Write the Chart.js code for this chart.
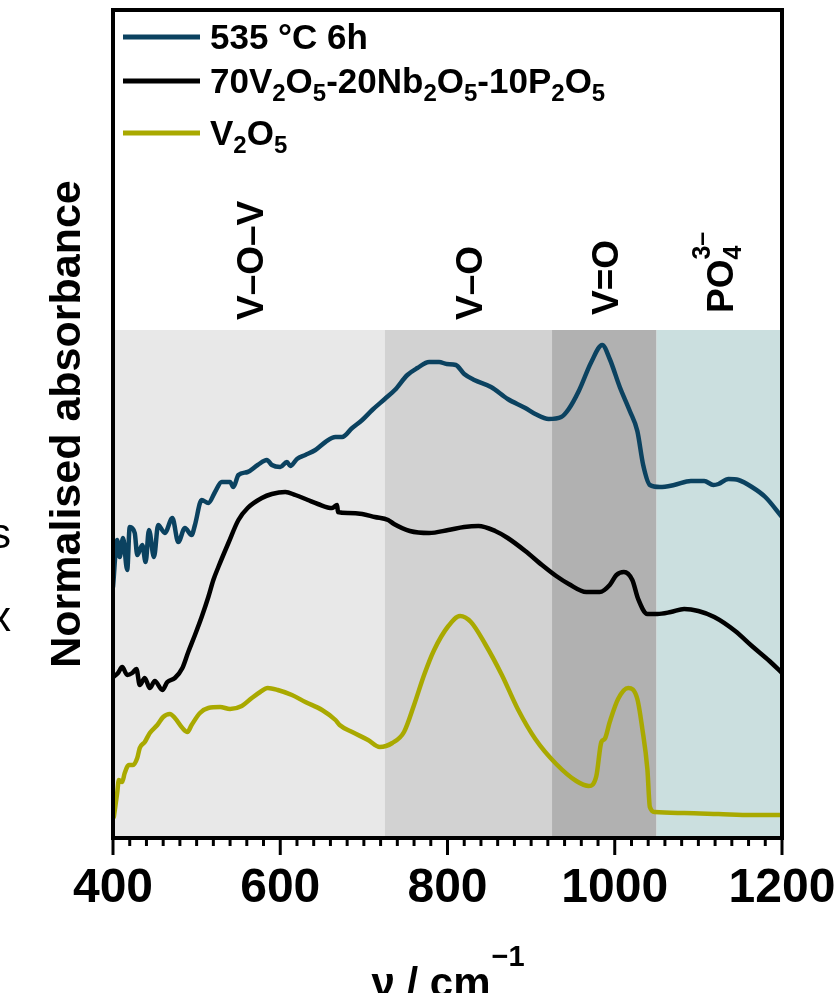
<!DOCTYPE html>
<html>
<head>
<meta charset="utf-8">
<script src="https://cdn.jsdelivr.net/npm/chart.js@4/dist/chart.umd.min.js"></script>
<style>
  html, body { margin: 0; padding: 0; background: #fff; }
</style>
</head>
<body>
<canvas id="c" width="840" height="993"></canvas>
<script>
/* ===== FTIR absorbance: three offset traces over shaded band regions ===== */

// ---- data (wavenumber / cm-1, offset normalised absorbance) ----
const heatWn = [400,405,408,412,417,420,426,429,435,439,443,449,454,462,471,478,486,494,498,506,
  514,522,530,540,544,550,561,573,584,590,600,608,612,620,630,642,654,666,674,686,
  698,710,725,737,752,764,778,790,799,810,820,832,852,872,893,905,921,936,945,957,
  972,985,994,1006,1018,1027,1034,1042,1054,1071,1091,1107,1118,1124,1136,1148,1164,1180,1200];
const heatAbs = [2.51,2.98,2.81,3.00,2.68,3.11,3.05,2.83,2.93,2.76,3.08,2.81,3.13,3.05,3.20,2.96,3.10,3.03,3.13,3.38,
  3.35,3.46,3.56,3.56,3.51,3.63,3.66,3.73,3.78,3.73,3.71,3.76,3.72,3.79,3.83,3.88,3.96,4.01,4.01,4.10,
  4.18,4.28,4.39,4.48,4.63,4.70,4.76,4.76,4.74,4.73,4.64,4.58,4.51,4.39,4.30,4.24,4.19,4.21,4.29,4.47,
  4.76,4.93,4.79,4.51,4.27,4.07,3.73,3.53,3.51,3.53,3.57,3.57,3.53,3.54,3.59,3.58,3.51,3.41,3.21];

const glassWn = [400,406,411,417,423,428,432,438,444,450,459,465,474,483,490,498,506,514,520,526,
  538,550,561,578,590,606,618,633,645,662,668,669,681,698,713,729,736,755,778,801,
  820,837,857,872,893,913,930,945,966,982,994,1002,1011,1021,1028,1039,1051,1067,1083,1100,
  1119,1144,1164,1185,1200];
const glassAbs = [1.61,1.65,1.71,1.63,1.65,1.69,1.53,1.60,1.50,1.57,1.48,1.56,1.60,1.70,1.86,2.03,2.21,2.41,2.58,2.71,
  2.95,3.18,3.30,3.40,3.44,3.46,3.43,3.38,3.34,3.30,3.33,3.26,3.25,3.24,3.21,3.18,3.14,3.07,3.05,3.08,
  3.11,3.12,3.07,3.00,2.87,2.73,2.62,2.54,2.46,2.46,2.53,2.63,2.66,2.58,2.39,2.24,2.24,2.26,2.29,2.27,
  2.21,2.07,1.92,1.77,1.65];

const v2o5Wn = [401,405,407,411,414,419,424,429,432,438,444,453,460,468,474,483,489,494,504,514,
  528,540,554,566,576,585,597,614,630,650,666,671,686,705,719,734,748,760,772,784,
  801,815,828,845,865,884,905,930,954,969,978,984,988,994,1004,1016,1027,1033,1039,1042,
  1048,1083,1124,1164,1200];
const v2o5Abs = [0.21,0.45,0.58,0.56,0.65,0.73,0.73,0.80,0.90,0.96,1.05,1.13,1.21,1.24,1.20,1.10,1.06,1.13,1.25,1.30,
  1.31,1.29,1.32,1.40,1.46,1.50,1.48,1.43,1.36,1.28,1.18,1.13,1.06,0.98,0.91,0.95,1.06,1.33,1.63,1.88,
  2.12,2.22,2.16,1.94,1.63,1.29,0.99,0.74,0.57,0.52,0.62,0.96,0.99,1.16,1.39,1.50,1.39,1.09,0.69,0.31,
  0.26,0.25,0.24,0.23,0.23];

const seriesNames = ["535 °C 6h", "70V_2O_5-20Nb_2O_5-10P_2O_5", "V_2O_5"];
const seriesColors = ["#0b4260", "#000000", "#a9a900"];

// shaded assignment bands
const bandEdges = [400, 725, 925, 1050, 1200];
const bandColors = ["#e8e8e8", "#d2d2d2", "#b1b1b1", "#cbdfdf"];
const bandTop = 5.08;
const bandLabels = ["V–O–V", "V–O", "V=O", "PO_4^{3–}"];
const bandLabelWn = [563, 825, 988, 1125];
const bandLabelBase = [5.18, 5.18, 5.23, 5.25];

const xMin = 400, xMax = 1200, xStep = 20, xMajor = 200;
const yMin = 0, yMax = 8.28;

const FONT = '"Liberation Sans", Arial, sans-serif';

// tiny markup: _x subscript, ^{..} superscript (a sup straight after a sub stacks on it)
function parseRich(s) {
  const out = [];
  let i = 0;
  while (i < s.length) {
    const c = s[i];
    if (c === "_" || c === "^") {
      let t;
      if (s[i + 1] === "{") { const j = s.indexOf("}", i); t = s.slice(i + 2, j); i = j + 1; }
      else { t = s[i + 1]; i += 2; }
      out.push({ t, k: c === "_" ? "sub" : "sup" });
    } else {
      const last = out[out.length - 1];
      if (last && last.k === "n") last.t += c; else out.push({ t: c, k: "n" });
      i++;
    }
  }
  return out;
}

function drawRich(ctx, s, x, y, size) {
  let cx = x, subStart = null;
  for (const p of parseRich(s)) {
    const small = p.k !== "n";
    ctx.font = `bold ${small ? Math.round(size * 0.68) : size}px ${FONT}`;
    let dx = cx, dy = y;
    if (p.k === "sub") { dy = y + size * 0.23; subStart = cx; }
    if (p.k === "sup") { if (subStart !== null) dx = subStart; dy = y - size * 0.62; }
    ctx.fillText(p.t, dx, dy);
    cx = Math.max(cx, dx + ctx.measureText(p.t).width);
    if (p.k !== "sub") subStart = null;
  }
}

const decor = {
  id: "decor",
  beforeDatasetsDraw(chart) {
    const { ctx, chartArea: a, scales: { x, y } } = chart;
    const top = y.getPixelForValue(bandTop);
    ctx.save();
    bandColors.forEach((col, i) => {
      const l = x.getPixelForValue(bandEdges[i]), r = x.getPixelForValue(bandEdges[i + 1]);
      ctx.fillStyle = col;
      ctx.fillRect(l, top, r - l, a.bottom - top);
    });
    ctx.restore();
  },
  afterDraw(chart) {
    const { ctx, chartArea: a, scales: { x, y } } = chart;
    ctx.save();
    ctx.fillStyle = "#000";
    ctx.strokeStyle = "#000";

    // frame + bottom ticks
    ctx.lineWidth = 4;
    ctx.strokeRect(a.left, a.top, a.right - a.left, a.bottom - a.top);
    ctx.lineWidth = 3;
    x.ticks.forEach((t) => {
      const px = x.getPixelForValue(t.value);
      ctx.beginPath();
      ctx.moveTo(px, a.bottom);
      ctx.lineTo(px, a.bottom + (t.value % xMajor === 0 ? 17 : 8));
      ctx.stroke();
    });

    // legend
    ctx.textAlign = "left";
    ctx.textBaseline = "alphabetic";
    const rows = [37, 81, 133];
    seriesNames.forEach((name, i) => {
      const ly = a.top + rows[i] - 10;
      ctx.strokeStyle = seriesColors[i];
      ctx.lineWidth = 5;
      ctx.beginPath();
      ctx.moveTo(a.left + 10, ly);
      ctx.lineTo(a.left + 87, ly);
      ctx.stroke();
      drawRich(ctx, name, a.left + 97, ly + 12, 35);
    });

    // band labels, rotated
    const annSize = 37;
    bandLabels.forEach((lab, i) => {
      const cx = x.getPixelForValue(bandLabelWn[i]);
      ctx.save();
      ctx.translate(cx + annSize * 0.36, y.getPixelForValue(bandLabelBase[i]));
      ctx.rotate(-Math.PI / 2);
      drawRich(ctx, lab, 0, 0, annSize);
      ctx.restore();
    });

    // y title
    ctx.save();
    ctx.font = `bold 43px ${FONT}`;
    ctx.textAlign = "center";
    ctx.translate(80, (a.top + a.bottom) / 2);
    ctx.rotate(-Math.PI / 2);
    ctx.fillText("Normalised absorbance", 0, 0);
    ctx.restore();

    // x title  ν / cm^-1
    ctx.font = `bold 42px ${FONT}`;
    const main = "ν / cm", sup = "−1";
    const wMain = ctx.measureText(main).width;
    ctx.font = `bold 29px ${FONT}`;
    const wSup = ctx.measureText(sup).width;
    const tx = (a.left + a.right) / 2 - (wMain + wSup) / 2;
    ctx.font = `bold 42px ${FONT}`;
    ctx.fillText(main, tx, 997);
    ctx.font = `bold 29px ${FONT}`;
    ctx.fillText(sup, tx + wMain + 1, 966);

    // letters of the neighbouring panel cut by the left edge
    ctx.font = `42px ${FONT}`;
    ctx.textAlign = "right";
    ctx.fillText("s", 11, 548);
    ctx.fillText("x", 11, 631);
    ctx.restore();
  }
};

const toPts = (xs, ys) => xs.map((v, i) => ({ x: v, y: ys[i] }));

new Chart(document.getElementById("c"), {
  type: "line",
  data: {
    datasets: [
      { label: seriesNames[0], data: toPts(heatWn, heatAbs), borderColor: seriesColors[0] },
      { label: seriesNames[1], data: toPts(glassWn, glassAbs), borderColor: seriesColors[1] },
      { label: seriesNames[2], data: toPts(v2o5Wn, v2o5Abs), borderColor: seriesColors[2] },
    ],
  },
  options: {
    responsive: false,
    devicePixelRatio: 1,
    animation: false,
    parsing: false,
    layout: { padding: { left: 113, right: 58, top: 10, bottom: 0 } },
    elements: {
      point: { radius: 0 },
      line: { borderWidth: 4.5, cubicInterpolationMode: "monotone", borderJoinStyle: "round", borderCapStyle: "round" },
    },
    plugins: { legend: { display: false }, tooltip: { enabled: false } },
    scales: {
      x: {
        type: "linear", min: xMin, max: xMax,
        grid: { display: false }, border: { display: false },
        afterFit: (s) => { s.height = 155; s.paddingLeft = 0; s.paddingRight = 0; },
        ticks: {
          stepSize: xStep, autoSkip: false, maxRotation: 0, padding: 14, color: "#000",
          font: { size: 48, weight: "bold", family: FONT },
          callback: (v) => (v % xMajor === 0 ? v : ""),
        },
      },
      y: { display: false, min: yMin, max: yMax },
    },
  },
  plugins: [decor],
});
</script>
</body>
</html>
